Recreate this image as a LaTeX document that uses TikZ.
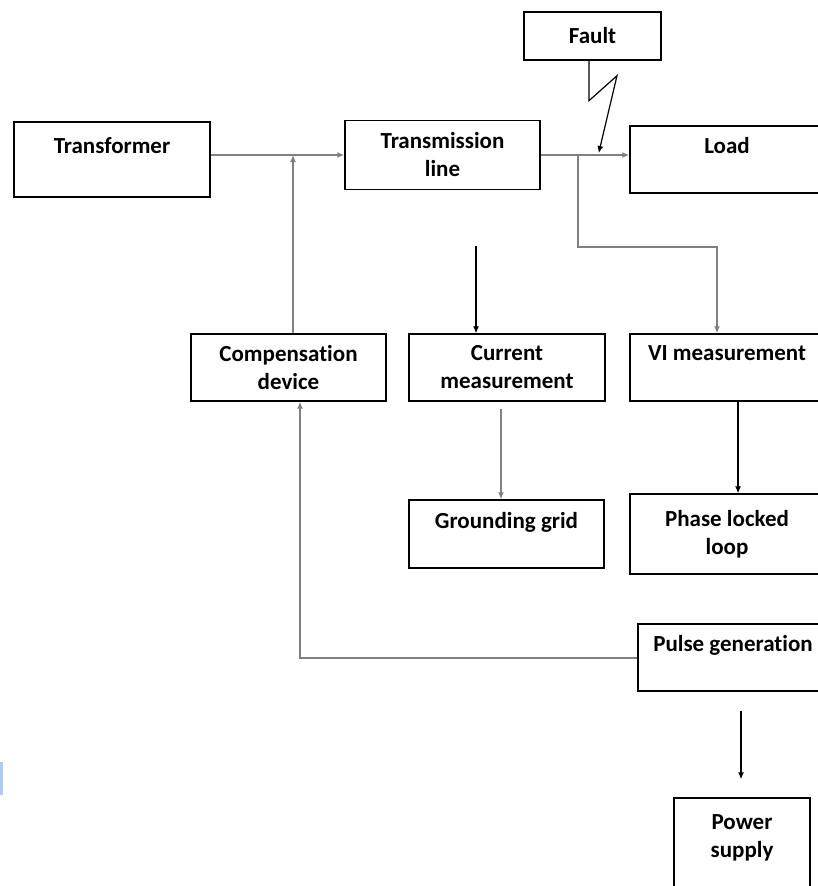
\documentclass[tikz,border=0pt]{standalone}
\usepackage{fontspec}
\setmainfont{Carlito}[Ligatures=NoCommon]
\usetikzlibrary{arrows.meta,calc}
\definecolor{linegray}{RGB}{128,128,128}
\definecolor{markblue}{RGB}{172,204,242}
\tikzset{
  blk/.style={draw,line width=1.4pt,align=center,inner sep=0pt,
    font=\bfseries\fontsize{23}{28}\selectfont},
  gline/.style={draw=linegray,line width=2pt},
  bline/.style={draw=black,line width=1.2pt},
  >={Latex[length=7pt,width=6pt]}
}
\begin{document}
\begin{tikzpicture}[x=1pt,y=-1pt]
    \clip (0,0) rectangle (818,886);
    \fill[markblue] (0,762) rectangle (3,795);

    \node[blk,minimum width=196pt,minimum height=75pt](trans)at(112,159.5){Transformer\\~};
    \node[blk,minimum width=195pt,minimum height=69pt](tline)at(442.5,155){Transmission\\line};
    \node[blk,minimum width=137pt,minimum height=48pt](fault)at(592.5,36){Fault};
    \node[blk,minimum width=194pt,minimum height=67pt](load)at(727,159.5){Load\\~};

    \node[blk,minimum width=195pt,minimum height=67pt](comp)at(288.5,367.5){Compensation\\device};
    \node[blk,minimum width=196pt,minimum height=67pt](cur)at(507,367.5){Current\\measurement};
    \node[blk,minimum width=194pt,minimum height=67pt](vi)at(727,367.5){VI measurement\\~};

    \node[blk,minimum width=195pt,minimum height=68pt](ground)at(506.5,534){Grounding grid\\~};
    \node[blk,minimum width=194pt,minimum height=80pt](pll)at(727,534){Phase locked\\loop};
    \node[blk,minimum width=190pt,minimum height=67pt](pulse)at(733,657.5){Pulse generation\\~};
    \node[blk,minimum width=136pt,minimum height=104pt](power)at(742,850){Power\\supply\\~};

    \coordinate (split) at ($(tline.east)+(37,0)$);
    \coordinate (cin) at (476,246);

    \draw[gline,->] (trans.east |- tline.west) to (tline.west);
    \draw[gline,->] ([xshift=4.5pt]comp.north) to ([xshift=4.5pt]comp.north |- tline.west);
    \draw[gline,->] (tline.east) to (tline.east -| load.west);
    \draw[gline,->] (split) -- ++(0,92) -| ([xshift=-10pt]vi.north);
    \draw[bline,->] ([xshift=-3.5pt]fault.south) -- ++(0,40) -- ++(28,-25) -- ($(split)+(21,-2)$);

    \draw[bline,->] (cin) to (cin |- cur.north);
    \draw[gline,->] ($(ground.north |- cur.south)+(-5.5,7)$) to ([xshift=-5.5pt]ground.north);
    \draw[bline,->] ([xshift=11pt]vi.south) to ([xshift=11pt]vi.south |- pll.north);

    \draw[gline,->] (pulse.west) -| ([xshift=11.5pt]comp.south);
    \draw[bline,->] ($(pulse.south -| power.north)+(-1,19)$) to ($(power.north)+(-1,-18)$);
  \end{tikzpicture}
\end{document}
